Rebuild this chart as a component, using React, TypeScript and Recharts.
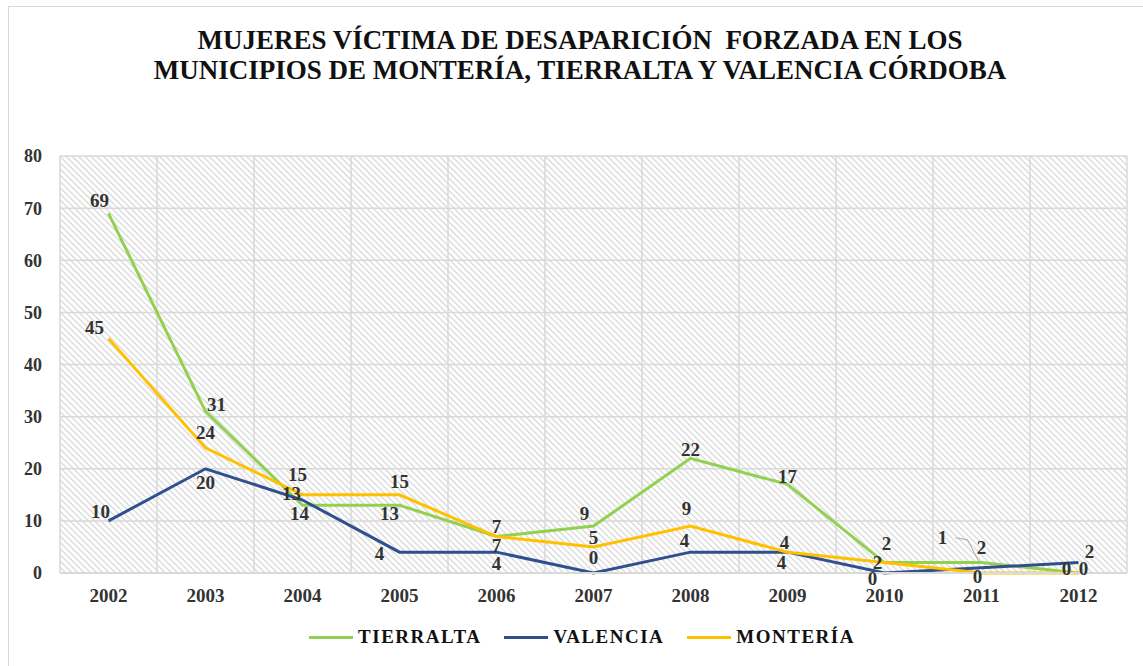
import React from 'react';
import { LineChart, Line, XAxis, YAxis, CartesianGrid, LabelList } from 'recharts';

const years = ['2002', '2003', '2004', '2005', '2006', '2007', '2008', '2009', '2010', '2011', '2012'];
const tierralta = [69, 31, 13, 13, 7, 9, 22, 17, 2, 2, 0];
const valencia = [10, 20, 14, 4, 4, 0, 4, 4, 0, 1, 2];
const monteria = [45, 24, 15, 15, 7, 5, 9, 4, 2, 0, 0];
const yTicks = [0, 10, 20, 30, 40, 50, 60, 70, 80];
const titleLines = [
  'MUJERES VÍCTIMA DE DESAPARICIÓN  FORZADA EN LOS',
  'MUNICIPIOS DE MONTERÍA, TIERRALTA Y VALENCIA CÓRDOBA',
];
const seriesNames = ['TIERRALTA', 'VALENCIA', 'MONTERÍA'];
const seriesColors = ['#92D050', '#2F4F8F', '#FFC000'];

const data = years.map((year, i) => ({
  year,
  tierralta: tierralta[i],
  valencia: valencia[i],
  monteria: monteria[i],
}));

// label placement (relative offsets of each data label from its point), per series and category index
const labelNudges: Record<string, Array<[number, number, boolean?]>> = {
  tierralta: [[-9, -13], [11, -7], [-11, -12], [-10, 8], [0, -10], [-9, -13], [0, -9], [0, -8], [2, -19], [0, -15], [-12, -5]],
  valencia: [[-8, -9], [0, 14], [-3, 13], [-20, 1], [0, 11], [0, -16], [-6, -12], [-6, 10], [-12, 5], [-39, -30, true], [11, -11]],
  monteria: [[-14, -11], [0, -15], [-5, -20], [0, -13], [0, 9], [0, -9], [-4, -18], [-3, -10], [-7, 0], [-4, 3], [5, -5]],
};

const FONT = '"Liberation Serif", "Times New Roman", serif';
const TEXT_COLOR = '#333333';

const makeLabel = (key: string) => (props: any) => {
  const { x, y, value } = props;
  if (x == null || y == null) return null;
  let index = props.index;
  if (index == null) index = Math.round((x - 108.5) / 97);
  const nudge = labelNudges[key][index] || [0, -12];
  const [dx, dy, leader] = nudge;
  const lx = x + dx;
  const ly = y + dy;
  return (
    <g>
      {leader ? (
        <polyline
          points={`${lx + 13},${ly} ${lx + 25},${ly + 2} ${x - 2},${y - 5}`}
          fill="none"
          stroke="#a6a6a6"
          strokeWidth={1}
        />
      ) : null}
      <text
        x={lx}
        y={ly}
        textAnchor="middle"
        dominantBaseline="central"
        fontFamily={FONT}
        fontWeight="bold"
        fontSize={19}
        fill={TEXT_COLOR}
      >
        {value}
      </text>
    </g>
  );
};

const gridVertical = (props: any) => {
  const { offset } = props;
  const n = years.length;
  return Array.from({ length: n + 1 }, (_, i) => offset.left + (i * offset.width) / n);
};

export default function App() {
  return (
    <div
      style={{
        position: 'absolute',
        left: 0,
        top: 0,
        width: 1143,
        height: 666,
        background: '#ffffff',
        overflow: 'hidden',
        fontFamily: FONT,
      }}
    >
      <svg width={0} height={0} style={{ position: 'absolute' }}>
        <defs>
          <pattern
            id="hatch"
            patternUnits="userSpaceOnUse"
            width={4.4}
            height={4.4}
            patternTransform="rotate(45)"
          >
            <rect x={0} y={0} width={4.4} height={4.4} fill="#ffffff" />
            <line x1={0} y1={2.2} x2={4.4} y2={2.2} stroke="#d4d4d4" strokeWidth={1.2} />
          </pattern>
        </defs>
      </svg>
      <div
        style={{
          position: 'absolute',
          left: 8,
          top: 6,
          width: 1160,
          height: 700,
          border: '1px solid #d9d9d9',
          boxSizing: 'border-box',
        }}
      />
      <div
        style={{
          position: 'absolute',
          left: 0,
          top: 25,
          width: 1160,
          textAlign: 'center',
          fontWeight: 'bold',
          fontSize: 27,
          lineHeight: '30px',
          color: '#111111',
          whiteSpace: 'pre',
        }}
      >
        {titleLines.map((t) => (
          <div key={t}>{t}</div>
        ))}
      </div>
      <div style={{ position: 'absolute', left: 0, top: 0 }}>
        <LineChart
          width={1143}
          height={666}
          data={data}
          margin={{ top: 156, right: 16, bottom: 63, left: 10 }}
        >
          <CartesianGrid
            stroke="#d9d9d9"
            strokeWidth={1.5}
            fill="url(#hatch)"
            verticalCoordinatesGenerator={gridVertical}
          />
          <XAxis
            dataKey="year"
            height={30}
            padding={{ left: 48.5, right: 48.5 }}
            tickLine={false}
            axisLine={{ stroke: '#d9d9d9', strokeWidth: 2 }}
            tickMargin={10}
            tick={{ fontFamily: FONT, fontWeight: 'bold', fontSize: 19, fill: TEXT_COLOR }}
          />
          <YAxis
            width={50}
            domain={[0, 80]}
            ticks={yTicks}
            interval={0}
            axisLine={false}
            tickLine={false}
            tickMargin={12}
            tick={{ fontFamily: FONT, fontWeight: 'bold', fontSize: 18, fill: TEXT_COLOR }}
          />
          <Line
            type="linear"
            dataKey="tierralta"
            name={seriesNames[0]}
            stroke={seriesColors[0]}
            strokeWidth={3}
            dot={false}
            isAnimationActive={false}
          >
            <LabelList dataKey="tierralta" content={makeLabel('tierralta')} />
          </Line>
          <Line
            type="linear"
            dataKey="valencia"
            name={seriesNames[1]}
            stroke={seriesColors[1]}
            strokeWidth={3}
            dot={false}
            isAnimationActive={false}
          >
            <LabelList dataKey="valencia" content={makeLabel('valencia')} />
          </Line>
          <Line
            type="linear"
            dataKey="monteria"
            name={seriesNames[2]}
            stroke={seriesColors[2]}
            strokeWidth={3}
            dot={false}
            isAnimationActive={false}
          >
            <LabelList dataKey="monteria" content={makeLabel('monteria')} />
          </Line>
        </LineChart>
      </div>
      <div
        style={{
          position: 'absolute',
          left: 0,
          top: 624,
          width: 1164,
          display: 'flex',
          justifyContent: 'center',
          alignItems: 'center',
          gap: 23,
        }}
      >
        {seriesNames.map((name, i) => (
          <div key={name} style={{ display: 'flex', alignItems: 'center' }}>
            <div style={{ width: 44, height: 3, background: seriesColors[i], marginRight: 5 }} />
            <span
              style={{
                fontWeight: 'bold',
                fontSize: 19,
                letterSpacing: 1.5,
                color: '#111111',
                lineHeight: '26px',
              }}
            >
              {name}
            </span>
          </div>
        ))}
      </div>
    </div>
  );
}
